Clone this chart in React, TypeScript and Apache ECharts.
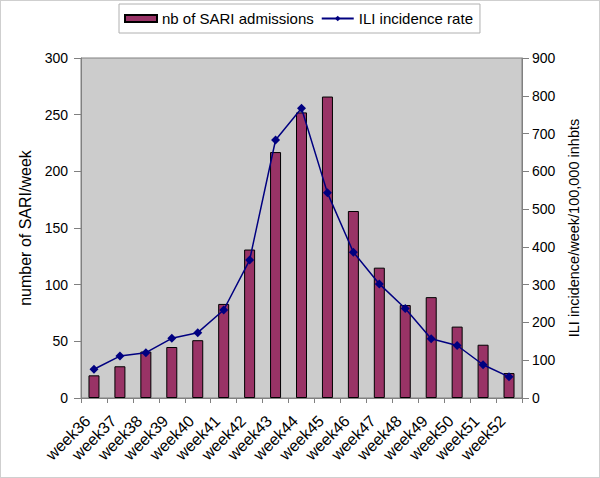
import React, { useEffect, useRef } from "react";
import * as echarts from "echarts";

const categories = [
  "week36", "week37", "week38", "week39", "week40", "week41", "week42", "week43", "week44",
  "week45", "week46", "week47", "week48", "week49", "week50", "week51", "week52",
];
const sariAdmissions = [20, 28, 41, 45, 51, 83, 131, 217, 252, 266, 165, 115, 82, 89, 63, 47, 22];
const iliRate = [76, 111, 120, 158, 173, 233, 365, 683, 767, 543, 386, 302, 237, 157, 139, 88, 56];
const leftTicks = { min: 0, max: 300, interval: 50 };
const rightTicks = { min: 0, max: 900, interval: 100 };

const FONT = "Liberation Sans, Arial, sans-serif";

export default function App() {
  const ref = useRef<HTMLDivElement>(null);
  useEffect(() => {
    if (!ref.current) return;
    const chart = echarts.init(ref.current, undefined, { renderer: "svg" });
    chart.setOption({
      animation: false,
      backgroundColor: "#ffffff",
      textStyle: { fontFamily: FONT, color: "#000" },
      legend: {
        top: 3,
        left: 118,
        padding: [7, 7, 7, 5],
        itemGap: 7,
        itemWidth: 32,
        itemHeight: 7,
        borderColor: "#b0b0b0",
        borderWidth: 1,
        textStyle: { fontFamily: FONT, fontSize: 15, color: "#000" },
        data: [
          { name: "nb of SARI admissions", icon: "rect" },
          { name: "ILI incidence rate" },
        ],
      },
      grid: {
        left: 80,
        right: 77,
        top: 57,
        bottom: 79,
        show: true,
        backgroundColor: "#cccccc",
        borderColor: "#808080",
        borderWidth: 1,
      },
      xAxis: {
        type: "category",
        data: categories,
        boundaryGap: true,
        axisLine: { lineStyle: { color: "#808080" } },
        axisTick: { show: true, length: 5, lineStyle: { color: "#808080" } },
        axisLabel: {
          rotate: 45,
          fontSize: 16,
          color: "#000",
          fontFamily: FONT,
          margin: 14,
          interval: 0,
          padding: [0, 9, 0, 0],
        },
      },
      yAxis: [
        {
          type: "value",
          ...leftTicks,
          name: "number of SARI/week",
          nameLocation: "middle",
          nameGap: 41,
          nameTextStyle: { fontSize: 16, color: "#000", fontFamily: FONT },
          axisLine: { show: true, lineStyle: { color: "#808080" } },
          axisTick: { show: true, length: 7, lineStyle: { color: "#808080" } },
          axisLabel: { fontSize: 14, color: "#000", fontFamily: FONT, margin: 13 },
          splitLine: { show: false },
        },
        {
          type: "value",
          ...rightTicks,
          position: "right",
          name: "ILI incidence/week/100,000 inhbts",
          nameLocation: "middle",
          nameGap: 44,
          nameRotate: 90,
          nameTextStyle: { fontSize: 14.5, color: "#000", fontFamily: FONT },
          axisLine: { show: true, lineStyle: { color: "#808080" } },
          axisTick: { show: true, length: 7, lineStyle: { color: "#808080" } },
          axisLabel: { fontSize: 14, color: "#000", fontFamily: FONT, margin: 10 },
          splitLine: { show: false },
        },
      ],
      series: [
        {
          name: "nb of SARI admissions",
          type: "bar",
          yAxisIndex: 0,
          data: sariAdmissions,
          barWidth: 11,
          itemStyle: { color: "#993366", borderColor: "#000", borderWidth: 1 },
        },
        {
          name: "ILI incidence rate",
          type: "line",
          yAxisIndex: 1,
          data: iliRate,
          symbol: "diamond",
          symbolSize: 9,
          lineStyle: { color: "#000080", width: 1.5 },
          itemStyle: { color: "#000080" },
        },
      ],
    });
    return () => chart.dispose();
  }, []);
  return (
    <div
      style={{
        position: "absolute",
        left: 0,
        top: 0,
        width: 600,
        height: 478,
        boxSizing: "border-box",
        border: "1px solid #cfcfcf",
        background: "#fff",
      }}
    >
      <div ref={ref} style={{ width: 598, height: 476 }} />
    </div>
  );
}
